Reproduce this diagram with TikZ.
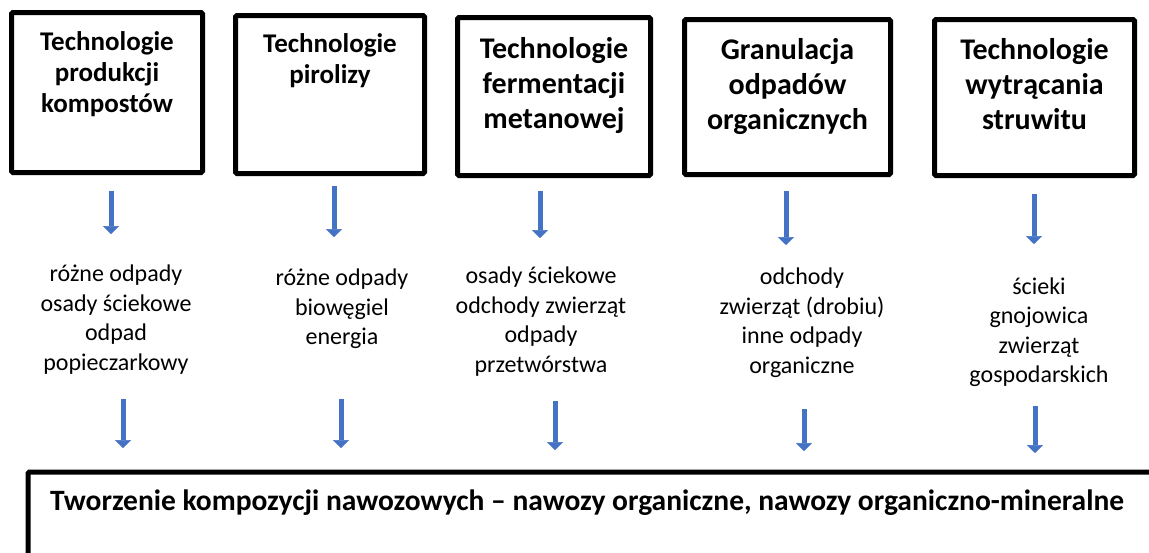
\documentclass[tikz,border=0pt]{standalone}
\usepackage{fontspec}
\setmainfont{Carlito}
\usetikzlibrary{arrows.meta}
\definecolor{arrowblue}{HTML}{4472C4}
\begin{document}
\begin{tikzpicture}[x=1pt,y=-1pt,
  techbox/.style={draw=black, line width=5pt, rounded corners=1.5pt, inner sep=0pt, fill=white},
  techtext/.style={font=\bfseries\fontsize{27}{31}\selectfont, align=center, inner sep=0pt, anchor=north},
  techtextw/.style={font=\bfseries\fontsize{30}{35}\selectfont, align=center, inner sep=0pt, anchor=north},
  wastetext/.style={font=\fontsize{24}{29.5}\selectfont, align=center, inner sep=0pt, anchor=north},
  flow/.style={draw=arrowblue, line width=5pt, -{Triangle[width=16pt,length=8pt,line width=0.5pt]}}]
\path[use as bounding box, clip] (0,0) rectangle (1149,552);
\fill[white] (0,0) rectangle (1149,552);

% technology boxes
\node[techbox, minimum width=191pt, minimum height=160pt] (b1) at (107,92.5) {};
\node[techbox, minimum width=189pt, minimum height=158pt] (b2) at (330,94.5) {};
\node[techbox, minimum width=193pt, minimum height=158pt] (b3) at (554,96.5) {};
\node[techbox, minimum width=206pt, minimum height=155pt] (b4) at (787.5,97) {};
\node[techbox, minimum width=200pt, minimum height=156pt] (b5) at (1034.5,97.5) {};

\node[techtext] (t1) at (107,31.5) {Technologie\\produkcji\\kompostów};
\node[techtext] (t2) at (330,33) {Technologie\\pirolizy};
\node[techtextw] (t3) at (554,37) {Technologie\\fermentacji\\metanowej};
\node[techtextw] (t4) at (787.5,38.3) {Granulacja\\odpadów\\organicznych};
\node[techtextw] (t5) at (1034.5,38.3) {Technologie\\wytrącania\\struwitu};

% waste descriptions
\node[wastetext] (w1) at (116,265) {różne odpady\\osady ściekowe\\odpad\\popieczarkowy};
\node[wastetext] (w2) at (342,269) {różne odpady\\biowęgiel\\energia};
\node[wastetext] (w3) at (541,267) {osady ściekowe\\odchody zwierząt\\odpady\\przetwórstwa};
\node[wastetext] (w4) at (802,268) {odchody\\zwierząt (drobiu)\\inne odpady\\organiczne};
\node[wastetext] (w5) at (1039,277.5) {ścieki\\gnojowica\\zwierząt\\gospodarskich};

% bottom box
\node[techbox, anchor=north west, minimum width=1200pt, minimum height=200pt] (bot) at (25.5,469.5) {};
\node[font=\bfseries\fontsize{29.5}{35}\selectfont, inner sep=0pt, anchor=base west] (bt) at (50,510)
  {Tworzenie kompozycji nawozowych – nawozy organiczne, nawozy organiczno-mineralne};

% arrow end points
\coordinate (u1s) at (111,191);  \coordinate (u1e) at (111,234);
\coordinate (u2s) at (334,186);  \coordinate (u2e) at (334,237);
\coordinate (u3s) at (540,191);  \coordinate (u3e) at (540,238);
\coordinate (u4s) at (786,191);  \coordinate (u4e) at (786,245);
\coordinate (u5s) at (1034,194); \coordinate (u5e) at (1034,244);
\coordinate (d1s) at (123,399);  \coordinate (d1e) at (123,448);
\coordinate (d2s) at (341,399);  \coordinate (d2e) at (341,448);
\coordinate (d3s) at (555,401);  \coordinate (d3e) at (555,450);
\coordinate (d4s) at (804,409);  \coordinate (d4e) at (804,451);
\coordinate (d5s) at (1035,406); \coordinate (d5e) at (1035,453);

\foreach \i in {1,...,5} {
  \draw[flow] (u\i s) -- (u\i e);
  \draw[flow] (d\i s) -- (d\i e);
}
\end{tikzpicture}
\end{document}
